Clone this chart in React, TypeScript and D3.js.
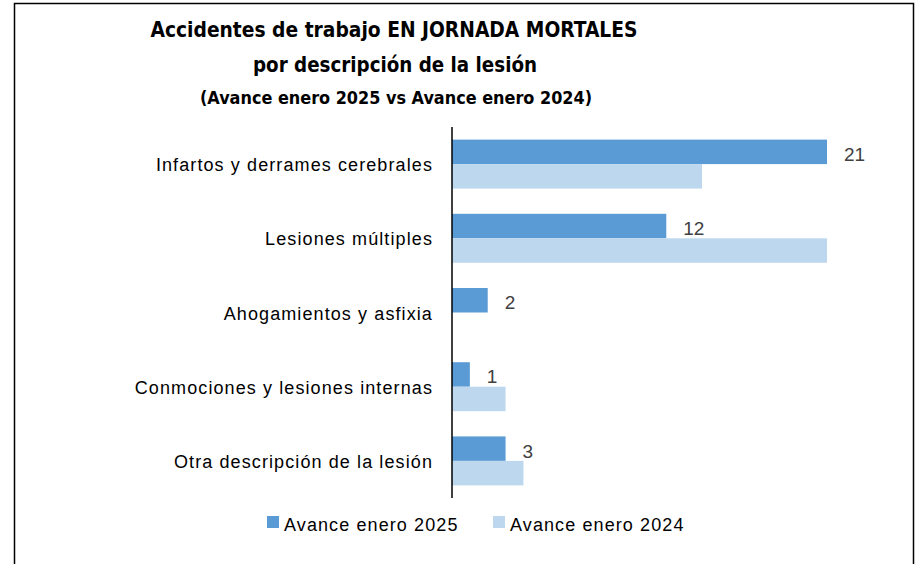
import React from "react";
import * as d3 from "d3";

// categorías y series
const categories = [
  "Infartos y derrames cerebrales",
  "Lesiones múltiples",
  "Ahogamientos y asfixia",
  "Conmociones y lesiones internas",
  "Otra descripción de la lesión",
];
const seriesNames = ["Avance enero 2025", "Avance enero 2024"];
const values2025 = [21, 12, 2, 1, 3];
const values2024 = [14, 21, 0, 3, 4];
const seriesColors = ["#5B9BD5", "#BDD7EE"];

const titleLines = [
  "Accidentes de trabajo EN JORNADA MORTALES",
  "por descripción de la lesión",
  "(Avance enero 2025 vs Avance enero 2024)",
];

const width = 922;
const height = 564;

const App = () => {
  const x = d3.scaleLinear().domain([0, 21]).range([452, 827]);
  const y = d3
    .scaleBand<string>()
    .domain(categories)
    .range([127, 498])
    .paddingInner(0.34)
    .paddingOuter(0.17);
  const ySeries = d3
    .scaleBand<string>()
    .domain(seriesNames)
    .range([0, y.bandwidth()]);

  const seriesValues = [values2025, values2024];
  const labelFont = "'Liberation Sans', Arial, sans-serif";
  const titleFont = "'Liberation Sans Narrow', 'DejaVu Sans Condensed', 'Liberation Sans', sans-serif";

  return (
    <div style={{ position: "absolute", left: 0, top: 0 }}>
      <svg width={width} height={height} style={{ display: "block", background: "#fff" }}>
        <rect x={14.5} y={3.5} width={899} height={580} fill="#fff" stroke="#000" strokeWidth={1.5} />

        {/* título */}
        <g fontFamily={titleFont} fontWeight="bold" textAnchor="middle" fill="#000">
          <text x={394} y={37} fontSize={21} textLength={487} lengthAdjust="spacingAndGlyphs">
            {titleLines[0]}
          </text>
          <text x={395} y={72} fontSize={21} textLength={284} lengthAdjust="spacingAndGlyphs">
            {titleLines[1]}
          </text>
          <text x={396} y={104} fontSize={17} textLength={392} lengthAdjust="spacingAndGlyphs">
            {titleLines[2]}
          </text>
        </g>

        {/* barras */}
        {seriesValues.map((vals, si) => (
          <g key={seriesNames[si]} fill={seriesColors[si]}>
            {categories.map((c, i) => (
              <rect
                key={c}
                x={x(0)}
                y={(y(c) ?? 0) + (ySeries(seriesNames[si]) ?? 0)}
                width={x(vals[i]) - x(0)}
                height={ySeries.bandwidth()}
              />
            ))}
          </g>
        ))}

        {/* etiquetas de valor (solo 2025) */}
        <g fontFamily={labelFont} fontSize={19} fill="#404040">
          {categories.map((c, i) => (
            <text
              key={c}
              x={x(values2025[i]) + 17}
              y={(y(c) ?? 0) + (ySeries(seriesNames[0]) ?? 0) + ySeries.bandwidth() / 2 + 9}
            >
              {values2025[i]}
            </text>
          ))}
        </g>

        {/* eje vertical */}
        <line x1={x(0)} x2={x(0)} y1={127} y2={498} stroke="#000" strokeWidth={1.5} />

        {/* categorías */}
        <g fontFamily={labelFont} fontSize={18} letterSpacing={1.1} fill="#000" textAnchor="end">
          {categories.map((c) => (
            <text key={c} x={433} y={(y(c) ?? 0) + y.bandwidth() / 2 + 7}>
              {c}
            </text>
          ))}
        </g>

        {/* leyenda */}
        <g fontFamily={labelFont} fontSize={18} letterSpacing={1.1} fill="#000">
          {seriesNames.map((s, i) => {
            const lx = [267, 493][i];
            return (
              <g key={s}>
                <rect x={lx} y={516} width={12} height={12} fill={seriesColors[i]} />
                <text x={lx + 17} y={531}>
                  {s}
                </text>
              </g>
            );
          })}
        </g>
      </svg>
    </div>
  );
};

export default App;
